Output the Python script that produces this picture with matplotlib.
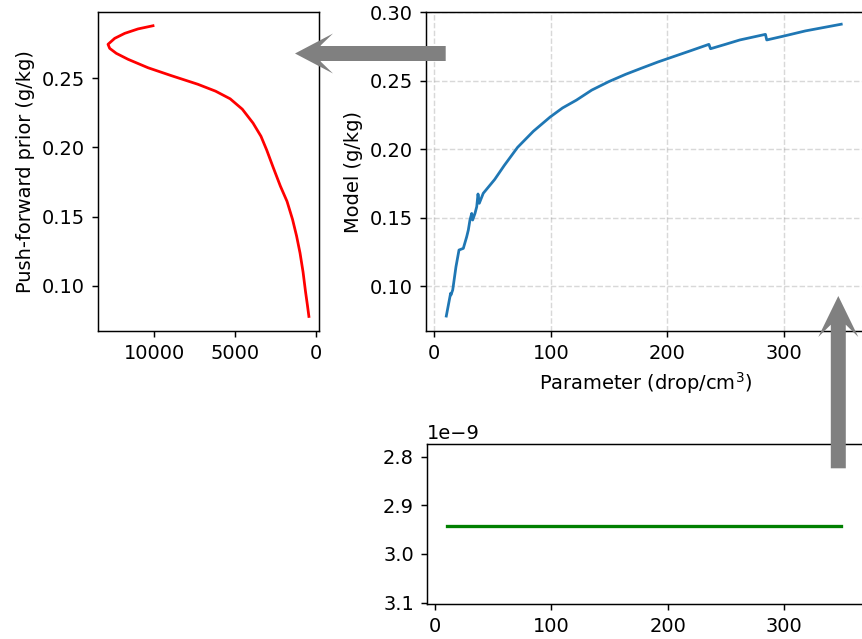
import matplotlib
matplotlib.use("Agg")
import matplotlib.pyplot as plt
from matplotlib.patches import FancyArrow

# push-forward prior (density on x, model value on y)
prior_density = [10062, 10988, 11810, 12427, 12840, 12737, 12330, 11605, 10370,
                 8932, 7300, 6200, 5300, 4550, 3889, 3400, 3043, 2654, 2200,
                 1790, 1450, 1200, 988, 800, 650, 530, 440]
prior_value = [0.2877, 0.2854, 0.2822, 0.2786, 0.2743, 0.2714, 0.2678, 0.2635,
               0.2574, 0.2517, 0.2455, 0.2405, 0.2350, 0.2275, 0.2175, 0.2080,
               0.1980, 0.1858, 0.1720, 0.1610, 0.1480, 0.1360, 0.1238, 0.1100,
               0.0960, 0.0860, 0.0780]

# model response vs parameter
param = [10.3, 12.9, 14.0, 14.3, 15.8, 18.6, 21.2, 24.9, 27.8, 29.2, 30.6,
         32.1, 32.9, 34.9, 36.4, 37.5, 38.6, 42.0, 51.8, 60.0, 71.4, 85.0,
         99.4, 110.0, 121.9, 135.0, 149.9, 164.0, 178.0, 192.0, 206.0, 220.0,
         235.5, 236.9, 250.0, 262.0, 284.0, 285.1, 300.0, 318.2, 349.0]
model = [0.0781, 0.0898, 0.0947, 0.0935, 0.0971, 0.1141, 0.1263, 0.1275,
         0.1360, 0.1409, 0.1482, 0.1530, 0.1482, 0.1530, 0.1579, 0.1672,
         0.1604, 0.1677, 0.1778, 0.1880, 0.2012, 0.2130, 0.2234, 0.2300,
         0.2357, 0.2430, 0.2493, 0.2545, 0.2591, 0.2636, 0.2677, 0.2718,
         0.2764, 0.2732, 0.2765, 0.2796, 0.2837, 0.2796, 0.2825, 0.2862,
         0.2911]

# lower panel: constant value across the parameter range
lower_x = [10.3, 349.0]
lower_y = [2.943e-9, 2.943e-9]

dpi = 132
plt.rcParams['font.size'] = 10.6
fig = plt.figure(figsize=(862 / dpi, 639 / dpi), dpi=dpi)

# left panel
ax1 = fig.add_axes([0.1137, 0.482, 0.2564, 0.4992])
ax1.plot(prior_density, prior_value, color='red', linewidth=1.5)
ax1.set_xlim(13457, -185)
ax1.set_ylim(0.0675, 0.2976)
ax1.set_xticks([10000, 5000, 0])
ax1.set_yticks([0.10, 0.15, 0.20, 0.25])
ax1.set_ylabel('Push-forward prior (g/kg)')

# right panel
ax2 = fig.add_axes([0.4942, 0.482, 0.5104, 0.4992])
ax2.plot(param, model, color='#1f77b4', linewidth=1.5)
ax2.set_xlim(-7.1, 370.2)
ax2.set_ylim(0.0672, 0.30)
ax2.set_xticks([0, 100, 200, 300])
ax2.set_yticks([0.10, 0.15, 0.20, 0.25, 0.30])
ax2.grid(True, linestyle='--', color='gray', alpha=0.3, linewidth=0.8)
ax2.set_xlabel('Parameter (drop/cm$^3$)')
ax2.set_ylabel('Model (g/kg)')

# lower panel
ax3 = fig.add_axes([0.4950, 0.0548, 0.5097, 0.2499])
ax3.plot(lower_x, lower_y, color='green', linewidth=1.8)
ax3.set_xlim(-7.1, 370.2)
ax3.set_ylim(3.1027e-9, 2.7746e-9)
ax3.set_xticks([0, 100, 200, 300])
ax3.set_yticks([2.8e-9, 2.9e-9, 3.0e-9, 3.1e-9])

# arrows drawn in pixel space on an overlay
ov = fig.add_axes([0, 0, 1, 1], zorder=10)
ov.set_xlim(0, 862)
ov.set_ylim(639, 0)
ov.axis('off')
ov.patch.set_alpha(0)
ov.add_patch(FancyArrow(445.7, 53.5, -150.7, 0, width=15, head_width=40,
                        head_length=38, overhang=0.34, length_includes_head=True,
                        color='#808080', linewidth=0))
ov.add_patch(FancyArrow(838.3, 468.3, 0, -172.3, width=15, head_width=40,
                        head_length=41, overhang=0.3, length_includes_head=True,
                        color='#808080', linewidth=0))

fig.savefig('out.png', dpi=dpi)
